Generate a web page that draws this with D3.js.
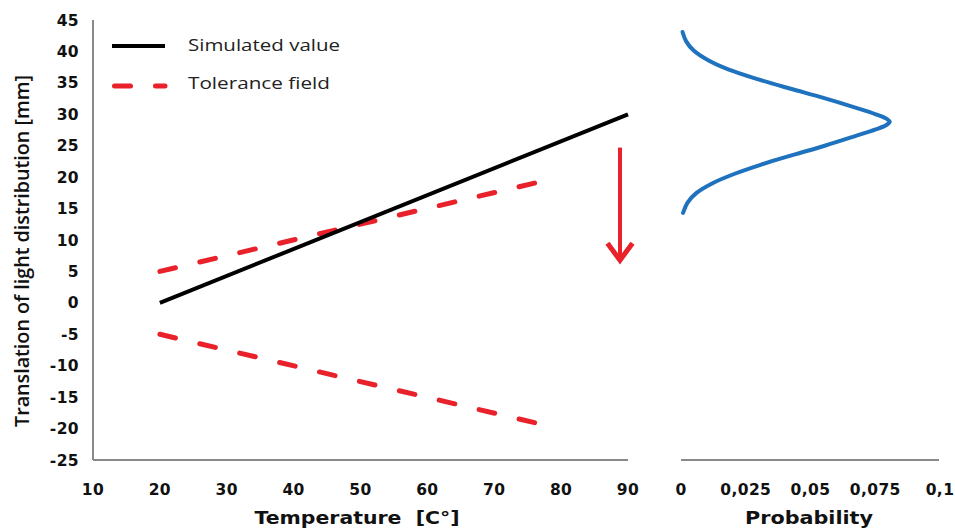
<!DOCTYPE html>
<html>
<head>
<meta charset="utf-8">
<script src="https://cdn.jsdelivr.net/npm/d3@7"></script>
<style>
  body { margin: 0; background: #fff; }
  .tick-label { font-family: "DejaVu Sans", Verdana, sans-serif; font-weight: bold; font-size: 15.5px; fill: #111; letter-spacing: 0.4px; }
  .axis-title { font-family: "DejaVu Sans", Verdana, sans-serif; font-weight: bold; font-size: 18px; fill: #111; }
  .legend-text { font-family: "Open Sans", sans-serif; font-size: 17px; fill: #222; }
</style>
</head>
<body>
<svg id="chart" width="955" height="531"></svg>
<script>
// left panel: temperature vs translation
const tempTicks = [10, 20, 30, 40, 50, 60, 70, 80, 90];
const transTicks = [45, 40, 35, 30, 25, 20, 15, 10, 5, 0, -5, -10, -15, -20, -25];
const simTemp = [20, 90];
const simValue = [0, 30];
const tolTemp = [20, 77];
const tolUpper = [5, 19.3];
const tolLower = [-5, -19.3];
// red arrow (temperature, from -> to)
const arrowTemp = 88.8;
const arrowFrom = 24.7;
const arrowTo = 6.3;

// right panel: probability distribution
const probTicks = [0, 0.025, 0.05, 0.075, 0.1];
const probTickLabels = ["0", "0,025", "0,05", "0,075", "0,1"];
const distLevel = [14.3, 16.0, 17.5, 19.0, 20.5, 22.0, 23.5, 25.0, 26.5, 27.6, 28.3, 28.8, 29.3, 30.0, 31.1, 32.6, 34.1, 35.6, 37.1, 38.6, 40.1, 41.6, 43.1];
const distProb = [0.0008, 0.0026, 0.0060, 0.0120, 0.0205, 0.0310, 0.0430, 0.0555, 0.0670, 0.0752, 0.0793, 0.0806, 0.0793, 0.0752, 0.0670, 0.0550, 0.0420, 0.0295, 0.0185, 0.0105, 0.0050, 0.0020, 0.0006];

const RED = "#e8212b", BLUE = "#1f72bd", AXIS = "#8a8a8a";

const svg = d3.select("#chart");

const x = d3.scaleLinear().domain([10, 90]).range([93, 628]);
const y = d3.scaleLinear().domain([-25, 45]).range([460, 20]);
const xp = d3.scaleLinear().domain([0, 0.1]).range([681, 940]);

// axes lines
svg.append("line").attr("x1", x(10)).attr("x2", x(10)).attr("y1", y(45)).attr("y2", y(-25))
  .attr("stroke", AXIS).attr("stroke-width", 2);
svg.append("line").attr("x1", x(10)).attr("x2", x(90)).attr("y1", y(-25)).attr("y2", y(-25))
  .attr("stroke", AXIS).attr("stroke-width", 2);
svg.append("line").attr("x1", xp(0)).attr("x2", xp(0.1) - 1).attr("y1", y(-25)).attr("y2", y(-25))
  .attr("stroke", AXIS).attr("stroke-width", 2);

// tick labels
svg.selectAll(".ytick").data(transTicks).enter().append("text")
  .attr("class", "tick-label")
  .attr("x", 79).attr("y", d => y(d)).attr("dy", "0.36em")
  .attr("text-anchor", "end").text(d => d);

svg.selectAll(".xtick").data(tempTicks).enter().append("text")
  .attr("class", "tick-label")
  .attr("x", d => x(d)).attr("y", 489).attr("dy", "0.36em")
  .attr("text-anchor", "middle").text(d => d);

svg.selectAll(".ptick").data(probTicks).enter().append("text")
  .attr("class", "tick-label")
  .attr("x", d => xp(d)).attr("y", 489).attr("dy", "0.36em")
  .attr("text-anchor", "middle").text((d, i) => probTickLabels[i]);

// axis titles
svg.append("text").attr("class", "axis-title")
  .attr("x", 357).attr("y", 518).attr("dy", "0.36em").attr("text-anchor", "middle")
  .attr("xml:space", "preserve")
  .attr("textLength", 205).attr("lengthAdjust", "spacingAndGlyphs")
  .text("Temperature  [C°]");
svg.append("text").attr("class", "axis-title")
  .attr("x", 809).attr("y", 518).attr("dy", "0.36em").attr("text-anchor", "middle")
  .attr("textLength", 128).attr("lengthAdjust", "spacingAndGlyphs")
  .text("Probability");
svg.append("text").attr("class", "axis-title")
  .attr("transform", "translate(22,251) rotate(-90)")
  .attr("dy", "0.36em").attr("text-anchor", "middle")
  .style("font-family", "'Open Sans', sans-serif").style("font-weight", 600).style("font-size", "19.5px")
  .attr("textLength", 352).attr("lengthAdjust", "spacingAndGlyphs")
  .text("Translation of light distribution [mm]");

// tolerance field
const line = d3.line().x(d => x(d[0])).y(d => y(d[1]));
[tolUpper, tolLower].forEach(vals => {
  svg.append("path")
    .datum(tolTemp.map((t, i) => [t, vals[i]]))
    .attr("d", line)
    .attr("fill", "none").attr("stroke", RED).attr("stroke-width", 5)
    .attr("stroke-linecap", "round").attr("stroke-dasharray", "16,25");
});

// simulated value
svg.append("path")
  .datum(simTemp.map((t, i) => [t, simValue[i]]))
  .attr("d", line)
  .attr("fill", "none").attr("stroke", "#000").attr("stroke-width", 4);

// arrow
const ax = x(arrowTemp);
svg.append("line").attr("x1", ax).attr("x2", ax).attr("y1", y(arrowFrom)).attr("y2", y(arrowTo) - 3)
  .attr("stroke", RED).attr("stroke-width", 4);
svg.append("path")
  .attr("d", `M${ax - 12.5},${y(arrowTo) - 20} L${ax},${y(arrowTo) - 3} L${ax + 12.5},${y(arrowTo) - 20}`)
  .attr("fill", "none").attr("stroke", RED).attr("stroke-width", 5)
  .attr("stroke-linejoin", "miter");

// distribution curve
svg.append("path")
  .datum(distLevel.map((v, i) => [distProb[i], v]))
  .attr("d", d3.line().x(d => xp(d[0])).y(d => y(d[1])).curve(d3.curveCatmullRom.alpha(0.5)))
  .attr("fill", "none").attr("stroke", BLUE).attr("stroke-width", 4)
  .attr("stroke-linecap", "round");

// legend
const legend = svg.append("g");
legend.append("line").attr("x1", 112).attr("x2", 165).attr("y1", 46).attr("y2", 46)
  .attr("stroke", "#000").attr("stroke-width", 4);
legend.append("text").attr("class", "legend-text").attr("x", 188).attr("y", 45).attr("dy", "0.36em")
  .attr("textLength", 152).attr("lengthAdjust", "spacingAndGlyphs")
  .text("Simulated value");
legend.append("line").attr("x1", 114.5).attr("x2", 165).attr("y1", 86).attr("y2", 86)
  .attr("stroke", RED).attr("stroke-width", 5)
  .attr("stroke-linecap", "round").attr("stroke-dasharray", "16,25");
legend.append("text").attr("class", "legend-text").attr("x", 188).attr("y", 83).attr("dy", "0.36em")
  .attr("textLength", 142).attr("lengthAdjust", "spacingAndGlyphs")
  .text("Tolerance field");
</script>
</body>
</html>
